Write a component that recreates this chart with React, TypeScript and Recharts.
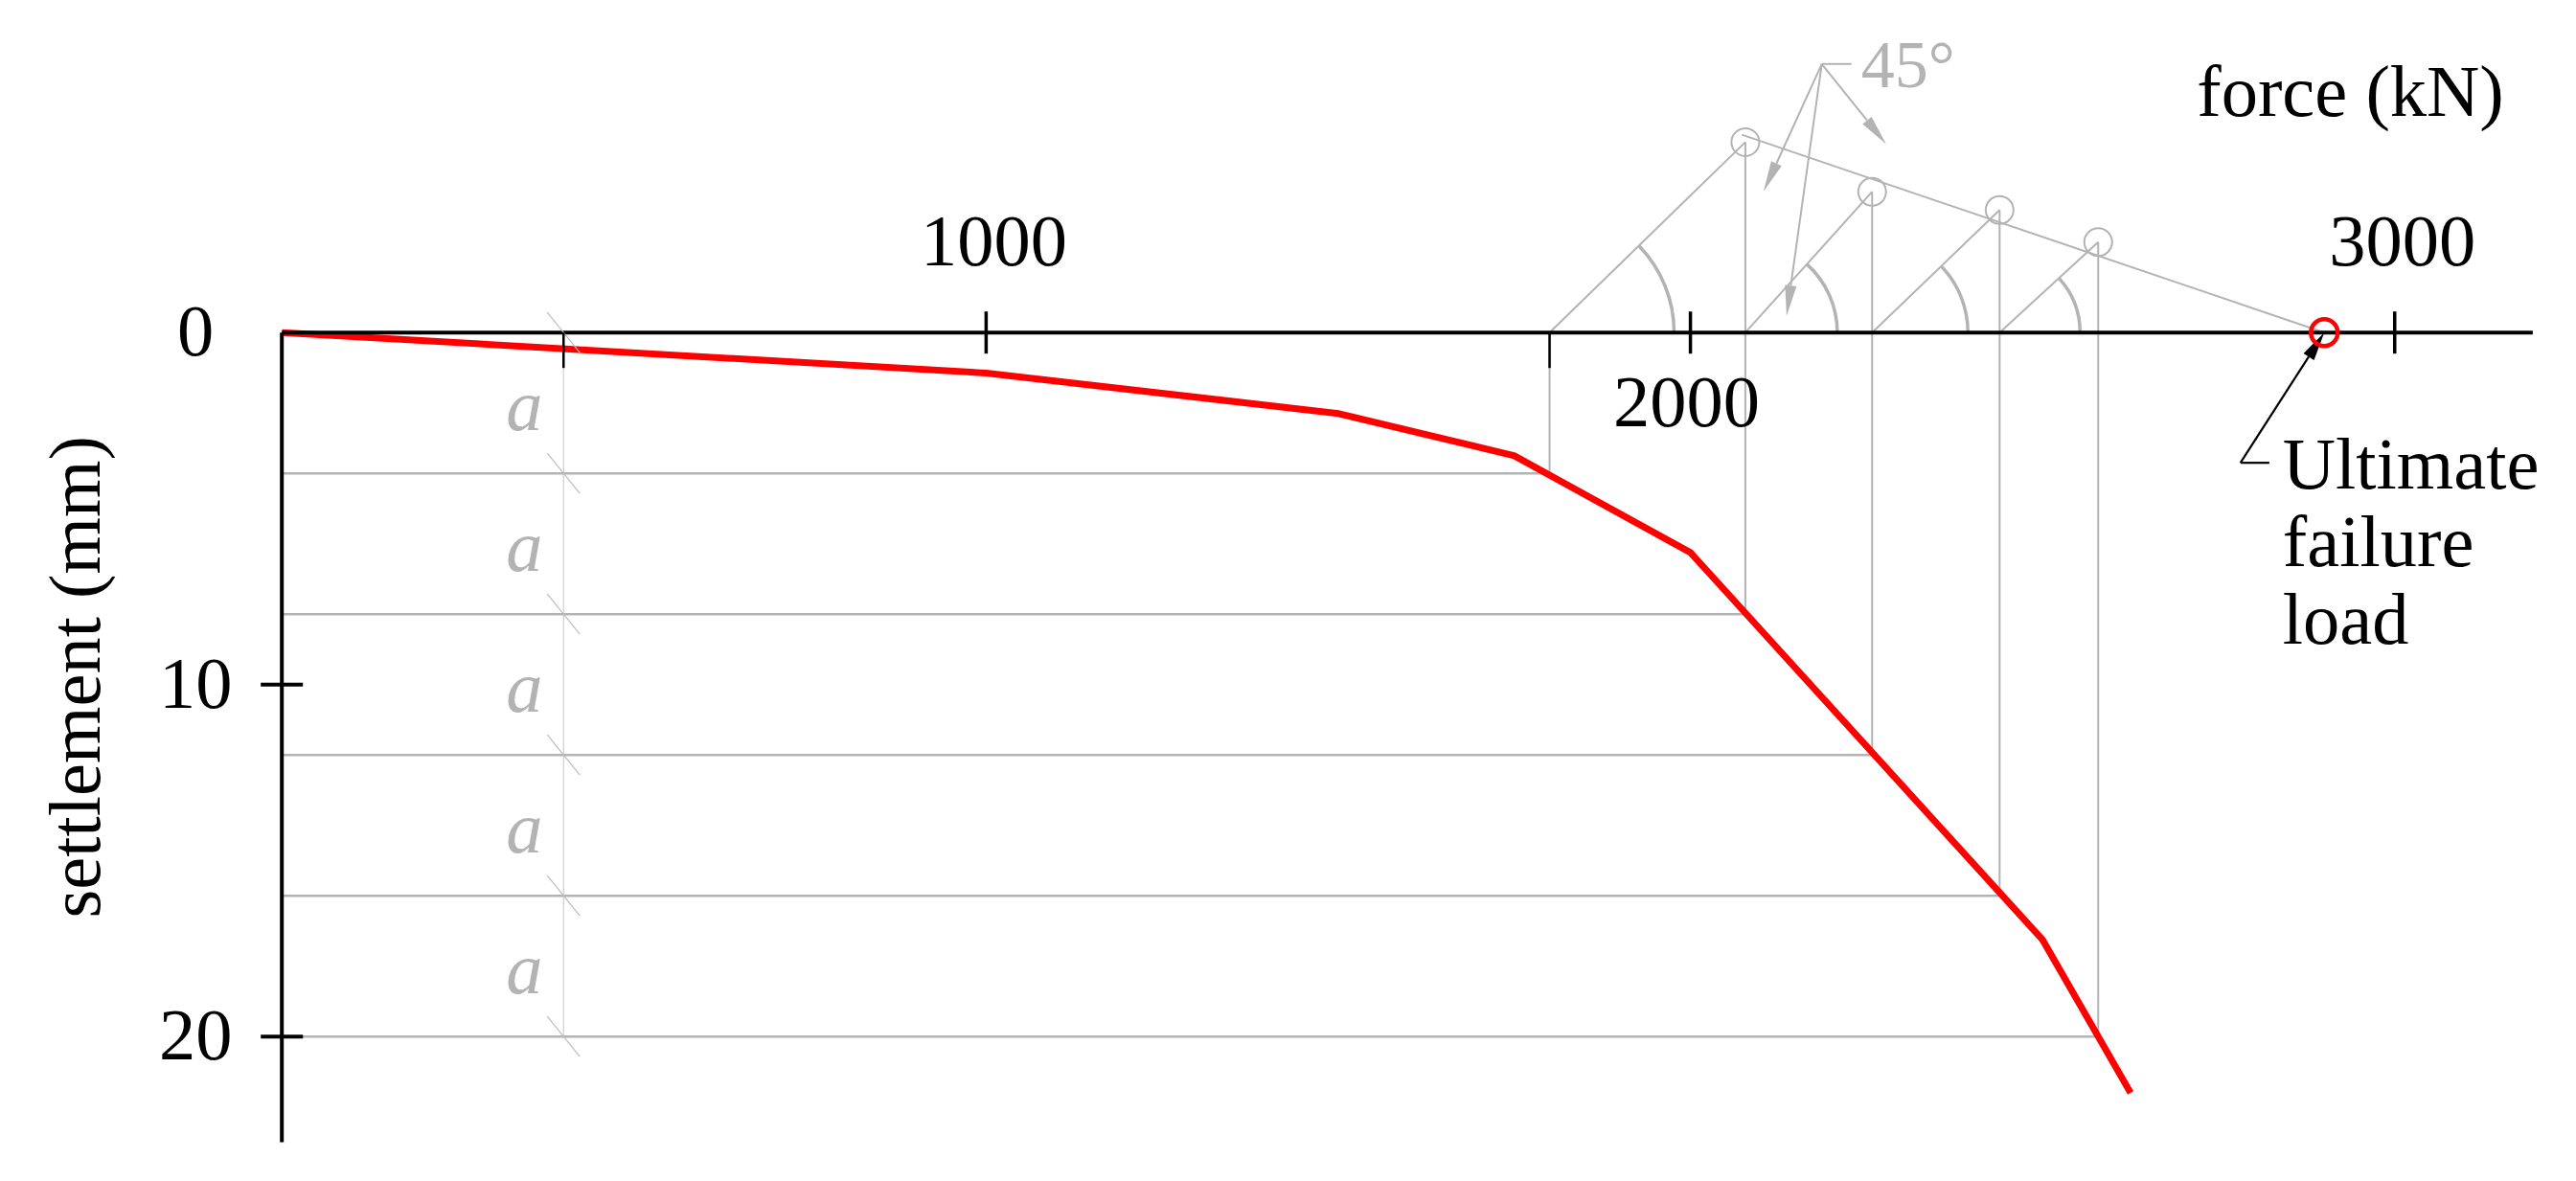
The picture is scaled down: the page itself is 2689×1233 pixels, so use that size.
import React from 'react';
import { ComposedChart, Line, XAxis, YAxis, ReferenceLine, ReferenceDot } from 'recharts';

// ---------- data ----------
const curveForce = [0, 1000, 1500, 1750, 2000, 2500, 2625];
const curveSettlement = [0, 1.15, 2.3, 3.5, 6.25, 17.25, 21.6];

const xTickValues = [1000, 2000, 3000];
const yTickValues = [0, 10, 20];

// equal settlement steps (a = 4 mm) and the loads where they cut the curve
const levelSettlement = [4, 8, 12, 16, 20];
const levelForce = [1800, 2078, 2258, 2439, 2579];
// 45° projections plotted above the load axis (settlement-axis units, negative = above)
const projectedSettlement = [-5.41, -4.0, -3.48, -2.57];
// straight line through the projected points
const fitLineForce = [2073, 2900];
const fitLineSettlement = [-5.62, 0];
const failureLoad = 2900;

// "a" dimension
const spacingForce = 400;
const spacingMarks = [0, 4, 8, 12, 16, 20];
const spacingLabelAt = [2, 6, 10, 14, 18];
const subTickForces = [400, 1800];

// 45° callout
const calloutApex = { f: 2186.5, s: -7.63 };
const calloutStubEndForce = 2228.7;
const calloutTipForce = [2104, 2136.5, 2278];
const calloutTipSettlement = [-4.01, -0.47, -5.35];

// ultimate failure load callout
const ultimateCorner = { f: 2781, s: 3.7 };
const ultimateStubEndForce = 2822;
const ultimateLines = ['Ultimate', 'failure', 'load'];

const xAxisEnd = 3196;
const yAxisEnd = 23;

// ---------- styles ----------
const W = 2689;
const H = 1233;
const GREY = '#b3b3b3';
const FONT = '"Liberation Serif", "Times New Roman", serif';
const FS = 76.5;
const arcRadius = [130, 96, 100, 84];

const curveData = curveForce.map((f, i) => ({ f, s: curveSettlement[i] }));

function arrowShape(color: string, width: number, headLen: number, headHalf: number) {
  return (p: any) => {
    const { x1, y1, x2, y2 } = p;
    const dx = x2 - x1;
    const dy = y2 - y1;
    const L = Math.hypot(dx, dy) || 1;
    const ux = dx / L;
    const uy = dy / L;
    const bx = x2 - ux * headLen;
    const by = y2 - uy * headLen;
    const px = -uy;
    const py = ux;
    return (
      <g>
        <line x1={x1} y1={y1} x2={bx} y2={by} stroke={color} strokeWidth={width} />
        <polygon
          points={`${x2},${y2} ${bx + px * headHalf},${by + py * headHalf} ${bx - px * headHalf},${by - py * headHalf}`}
          fill={color}
        />
      </g>
    );
  };
}

function angleShape(r: number) {
  return (p: any) => {
    const { x1, y1, x2, y2 } = p;
    const th = Math.atan2(y1 - y2, x2 - x1);
    const ex = x1 + r * Math.cos(th);
    const ey = y1 - r * Math.sin(th);
    return (
      <g>
        <line x1={x1} y1={y1} x2={x2} y2={y2} stroke={GREY} strokeWidth={2} />
        <path d={`M ${x1 + r} ${y1} A ${r} ${r} 0 0 0 ${ex} ${ey}`} fill="none" stroke={GREY} strokeWidth={3.5} />
      </g>
    );
  };
}

export default function App() {
  return (
    <div style={{ position: 'absolute', left: 0, top: 0, width: W, height: H, background: '#fff' }}>
      <ComposedChart
        width={W}
        height={H}
        data={curveData}
        margin={{ top: 1.75, right: 42.2, bottom: 40.55, left: 294.2 }}
      >
        <XAxis type="number" dataKey="f" domain={[0, 3200]} allowDataOverflow hide />
        <YAxis type="number" domain={[-9.4, 23]} allowDataOverflow reversed hide />

        {/* "a" dimension line */}
        <ReferenceLine
          segment={[{ x: spacingForce, y: 0 }, { x: spacingForce, y: spacingMarks[spacingMarks.length - 1] }]}
          stroke="#cfcfcf"
          strokeWidth={1.2}
        />
        {spacingMarks.map((s) => (
          <ReferenceDot
            key={`sl${s}`}
            x={spacingForce}
            y={s}
            r={0}
            shape={(p: any) => (
              <line x1={p.cx - 17} y1={p.cy - 21} x2={p.cx + 17} y2={p.cy + 21} stroke="#bdbdbd" strokeWidth={1.2} />
            )}
          />
        ))}
        {spacingLabelAt.map((s) => (
          <ReferenceDot
            key={`a${s}`}
            x={spacingForce}
            y={s}
            r={0}
            shape={(p: any) => (
              <text x={p.cx - 41} y={p.cy + 28} textAnchor="middle" fontFamily={FONT} fontStyle="italic" fontSize={FS} fill={GREY}>
                a
              </text>
            )}
          />
        ))}

        {/* horizontal settlement levels */}
        {levelSettlement.map((s, i) => (
          <ReferenceLine
            key={`h${i}`}
            segment={[{ x: 0, y: s }, { x: levelForce[i], y: s }]}
            stroke={GREY}
            strokeWidth={2.5}
          />
        ))}
        {/* verticals to load axis / projected points */}
        {levelForce.map((f, i) => (
          <ReferenceLine
            key={`v${i}`}
            segment={[{ x: f, y: levelSettlement[i] }, { x: f, y: i === 0 ? 0 : projectedSettlement[i - 1] }]}
            stroke={GREY}
            strokeWidth={2}
          />
        ))}
        {/* 45° lines with angle arcs */}
        {projectedSettlement.map((s, i) => (
          <ReferenceLine
            key={`d${i}`}
            segment={[{ x: levelForce[i], y: 0 }, { x: levelForce[i + 1], y: s }]}
            shape={angleShape(arcRadius[i])}
          />
        ))}
        {/* line through projected points */}
        <ReferenceLine
          segment={[{ x: fitLineForce[0], y: fitLineSettlement[0] }, { x: fitLineForce[1], y: fitLineSettlement[1] }]}
          stroke={GREY}
          strokeWidth={2}
        />
        {projectedSettlement.map((s, i) => (
          <ReferenceDot key={`c${i}`} x={levelForce[i + 1]} y={s} r={14.5} fill="none" stroke={GREY} strokeWidth={2} />
        ))}

        {/* 45° callout */}
        <ReferenceLine
          segment={[{ x: calloutApex.f, y: calloutApex.s }, { x: calloutStubEndForce, y: calloutApex.s }]}
          stroke={GREY}
          strokeWidth={2}
        />
        {calloutTipForce.map((f, i) => (
          <ReferenceLine
            key={`ar${i}`}
            segment={[{ x: calloutApex.f, y: calloutApex.s }, { x: f, y: calloutTipSettlement[i] }]}
            shape={arrowShape(GREY, 2, 32, 6)}
          />
        ))}
        <ReferenceDot
          x={calloutApex.f}
          y={calloutApex.s}
          r={0}
          shape={(p: any) => (
            <text x={p.cx + 41} y={p.cy + 24} fontFamily={FONT} fontSize={70} fill={GREY}>
              45°
            </text>
          )}
        />

        {/* load–settlement curve */}
        <Line
          dataKey="s"
          type="linear"
          stroke="#ff0000"
          strokeWidth={7}
          dot={false}
          activeDot={false}
          isAnimationActive={false}
        />

        {/* axes */}
        <ReferenceLine segment={[{ x: 0, y: 0 }, { x: xAxisEnd, y: 0 }]} stroke="#000" strokeWidth={4} />
        <ReferenceLine segment={[{ x: 0, y: 0 }, { x: 0, y: yAxisEnd }]} stroke="#000" strokeWidth={4} />
        {xTickValues.map((t, i) => (
          <ReferenceDot
            key={`xt${t}`}
            x={t}
            y={0}
            r={0}
            shape={(p: any) => {
              const below = i === 1;
              return (
                <g>
                  <line x1={p.cx} y1={p.cy - 22} x2={p.cx} y2={p.cy + 22} stroke="#000" strokeWidth={3.5} />
                  <text
                    x={p.cx + (below ? -4 : 8)}
                    y={p.cy + (below ? 98 : -70)}
                    textAnchor="middle"
                    fontFamily={FONT}
                    fontSize={FS}
                    fill="#000"
                  >
                    {t}
                  </text>
                </g>
              );
            }}
          />
        ))}
        {subTickForces.map((f) => (
          <ReferenceDot
            key={`st${f}`}
            x={f}
            y={0}
            r={0}
            shape={(p: any) => <line x1={p.cx} y1={p.cy} x2={p.cx} y2={p.cy + 37} stroke="#000" strokeWidth={2.5} />}
          />
        ))}
        {yTickValues.map((t) => (
          <ReferenceDot
            key={`yt${t}`}
            x={0}
            y={t}
            r={0}
            shape={(p: any) => (
              <g>
                {t !== 0 && <line x1={p.cx - 22} y1={p.cy} x2={p.cx + 22} y2={p.cy} stroke="#000" strokeWidth={4} />}
                <text x={p.cx - 90} y={p.cy + 24} textAnchor="middle" fontFamily={FONT} fontSize={FS} fill="#000">
                  {t}
                </text>
              </g>
            )}
          />
        ))}
        {/* axis titles */}
        <ReferenceDot
          x={xAxisEnd}
          y={0}
          r={0}
          shape={(p: any) => (
            <text x={p.cx - 30} y={p.cy - 226} textAnchor="end" fontFamily={FONT} fontSize={FS} fill="#000">
              force (kN)
            </text>
          )}
        />
        <ReferenceDot
          x={0}
          y={10}
          r={0}
          shape={(p: any) => (
            <text
              x={p.cx - 190}
              y={p.cy - 8}
              textAnchor="middle"
              transform={`rotate(-90, ${p.cx - 190}, ${p.cy - 8})`}
              fontFamily={FONT}
              fontSize={FS}
              fill="#000"
            >
              settlement (mm)
            </text>
          )}
        />

        {/* ultimate failure load */}
        <ReferenceLine
          segment={[{ x: ultimateCorner.f, y: ultimateCorner.s }, { x: ultimateStubEndForce, y: ultimateCorner.s }]}
          stroke="#000"
          strokeWidth={2.2}
        />
        <ReferenceLine
          segment={[{ x: ultimateCorner.f, y: ultimateCorner.s }, { x: failureLoad, y: 0 }]}
          shape={arrowShape('#000', 2.2, 30, 6.5)}
        />
        <ReferenceDot x={failureLoad} y={0} r={14} fill="none" stroke="#ff0000" strokeWidth={4.5} />
        <ReferenceDot
          x={ultimateCorner.f}
          y={ultimateCorner.s}
          r={0}
          shape={(p: any) => (
            <text fontFamily={FONT} fontSize={FS} fill="#000">
              {ultimateLines.map((l, k) => (
                <tspan key={l} x={p.cx + 44} y={p.cy + 27 + k * 81}>
                  {l}
                </tspan>
              ))}
            </text>
          )}
        />
      </ComposedChart>
    </div>
  );
}
